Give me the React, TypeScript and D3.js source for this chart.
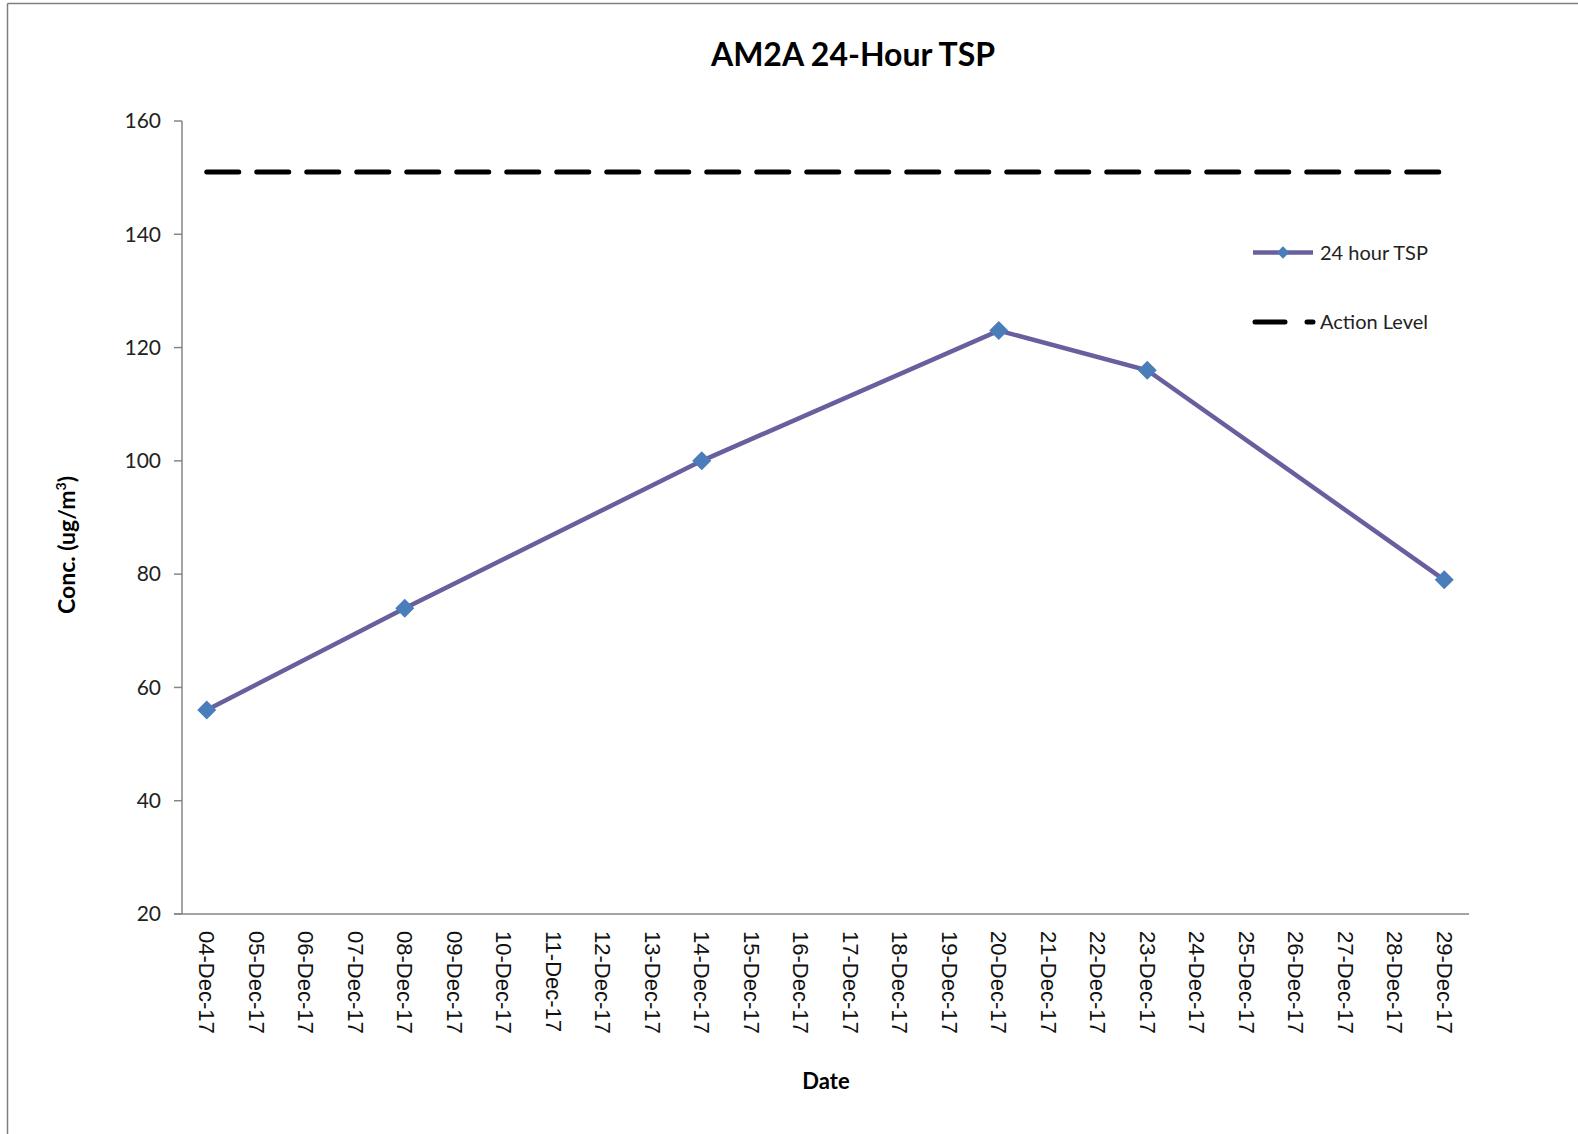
import React from 'react';
import * as d3 from 'd3';

// categories on the x axis (every day shown)
const dates = [
  '04-Dec-17', '05-Dec-17', '06-Dec-17', '07-Dec-17', '08-Dec-17', '09-Dec-17',
  '10-Dec-17', '11-Dec-17', '12-Dec-17', '13-Dec-17', '14-Dec-17', '15-Dec-17',
  '16-Dec-17', '17-Dec-17', '18-Dec-17', '19-Dec-17', '20-Dec-17', '21-Dec-17',
  '22-Dec-17', '23-Dec-17', '24-Dec-17', '25-Dec-17', '26-Dec-17', '27-Dec-17',
  '28-Dec-17', '29-Dec-17',
];

// measured days only
const tspDates = ['04-Dec-17', '08-Dec-17', '14-Dec-17', '20-Dec-17', '23-Dec-17', '29-Dec-17'];
const tspValues = [56, 74, 100, 123, 116, 79];

const actionLevel = 151;
const yTicks = [20, 40, 60, 80, 100, 120, 140, 160];

const W = 1578;
const H = 1134;
const plot = { left: 182, right: 1469, top: 121, bottom: 914 };

const lineColor = '#675f9e';
const markerColor = '#4a7ebb';

export default function App() {
  const x = d3.scaleBand<string>().domain(dates).range([plot.left, plot.right]).padding(0);
  const cx = (d: string) => (x(d) as number) + x.bandwidth() / 2;
  const y = d3.scaleLinear().domain([20, 160]).range([plot.bottom, plot.top]);

  const points = tspDates.map((d, i) => ({ d, v: tspValues[i] }));
  const line = d3.line<{ d: string; v: number }>().x(p => cx(p.d)).y(p => y(p.v));

  const diamond = d3.symbol().type(d3.symbolDiamond2).size(230)();

  const calibri = 'Lato, "Open Sans", sans-serif';

  return (
    <svg width={W} height={H} style={{ position: 'absolute', left: 0, top: 0, background: '#fff' }}>
      {/* frame */}
      <line x1={7.5} x2={W} y1={3.5} y2={3.5} stroke="#7f7f7f" strokeWidth={1.5} />
      <line x1={7.5} x2={7.5} y1={3.5} y2={H} stroke="#7f7f7f" strokeWidth={1.5} />

      <text x={853} y={66} textAnchor="middle" fontFamily={calibri} fontWeight="bold" fontSize={32} fill="#000">
        AM2A 24-Hour TSP
      </text>

      {/* y axis */}
      <line x1={plot.left} x2={plot.left} y1={plot.top} y2={plot.bottom} stroke="#868686" strokeWidth={1.5} />
      {yTicks.map(t => (
        <g key={t}>
          <line x1={plot.left - 8} x2={plot.left} y1={y(t)} y2={y(t)} stroke="#868686" strokeWidth={1.5} />
          <text x={161} y={y(t)} dy="0.35em" textAnchor="end" fontFamily={calibri} fontSize={21} fill="#222">
            {t}
          </text>
        </g>
      ))}

      {/* x axis */}
      <line x1={plot.left - 8} x2={plot.right} y1={plot.bottom} y2={plot.bottom} stroke="#868686" strokeWidth={1.5} />
      {dates.map(d => (
        <text
          key={d}
          transform={`translate(${cx(d)},${931}) rotate(90)`}
          dy="0.35em"
          fontFamily='"Liberation Sans", Arial, sans-serif'
          fontSize={22}
          fill="#111"
        >
          {d}
        </text>
      ))}

      <text x={826} y={1089} textAnchor="middle" fontFamily={calibri} fontWeight="bold" fontSize={22} fill="#000">
        Date
      </text>
      <text
        transform={`translate(75,545) rotate(-90)`}
        textAnchor="middle"
        fontFamily={calibri}
        fontWeight="bold"
        fontSize={23}
        fill="#000"
      >
        Conc. (ug/m<tspan dy={-9} fontSize={14}>3</tspan><tspan dy={9}>)</tspan>
      </text>

      {/* action level */}
      <line
        x1={cx(dates[0])}
        x2={cx(dates[dates.length - 1])}
        y1={y(actionLevel)}
        y2={y(actionLevel)}
        stroke="#000"
        strokeWidth={5}
        strokeDasharray="32 18"
        strokeLinecap="round"
      />

      {/* 24 hour TSP */}
      <path d={line(points) || ''} fill="none" stroke={lineColor} strokeWidth={4.5} />
      {points.map(p => (
        <path key={p.d} d={diamond || ''} transform={`translate(${cx(p.d)},${y(p.v)})`} fill={markerColor} />
      ))}

      {/* legend */}
      <g>
        <line x1={1253} x2={1313} y1={252.5} y2={252.5} stroke={lineColor} strokeWidth={4.5} />
        <path d={diamond || ''} transform="translate(1283,252.5) scale(0.65)" fill={markerColor} />
        <text x={1320} y={252.5} dy="0.35em" fontFamily={calibri} fontSize={20} fill="#222">24 hour TSP</text>

        <line x1={1255} x2={1313} y1={322} y2={322} stroke="#000" strokeWidth={5} strokeDasharray="30 22" strokeLinecap="round" />
        <text x={1320} y={322} dy="0.35em" fontFamily={calibri} fontSize={20} fill="#222">Action Level</text>
      </g>
    </svg>
  );
}
